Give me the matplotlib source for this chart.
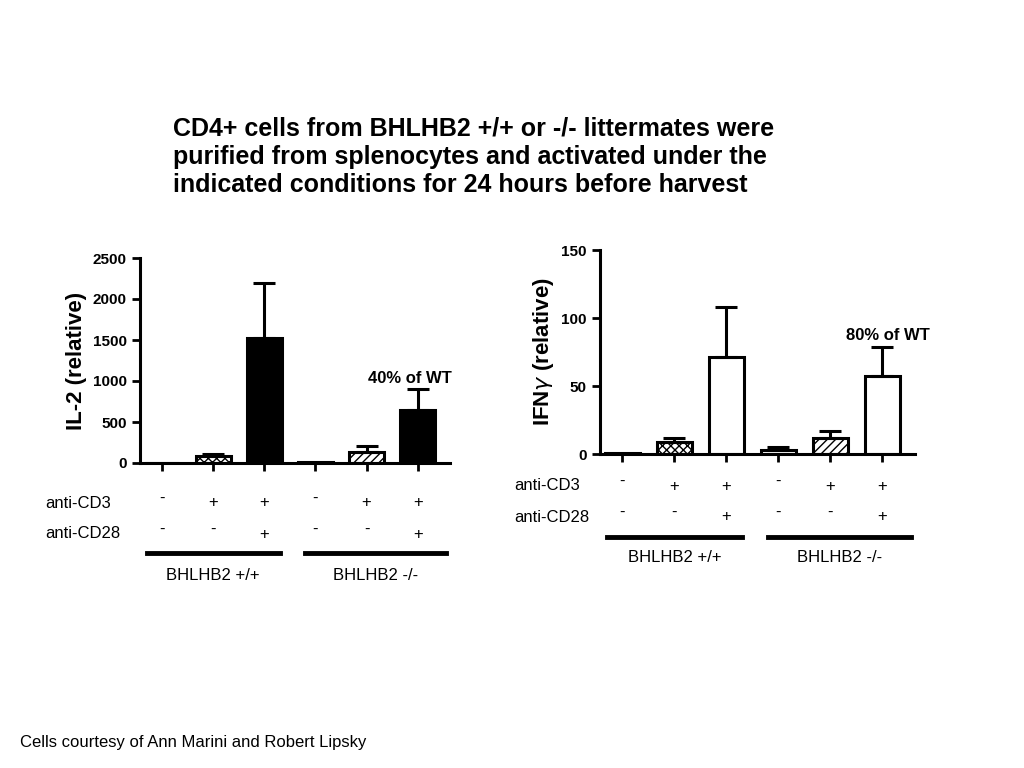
import matplotlib
matplotlib.use("Agg")
import matplotlib.pyplot as plt
import matplotlib.transforms as mtransforms

W, H = 1024, 768

# data
il2_mean = [0, 90, 1520, 10, 130, 650]
il2_err = [0, 25, 680, 0, 80, 250]
ifn_mean = [1, 9, 71, 3, 12, 57]
ifn_err = [0, 3, 37, 2, 5, 22]
cd3 = ["-", "+", "+", "-", "+", "+"]
cd28 = ["-", "-", "+", "-", "-", "+"]
groups = ["BHLHB2 +/+", "BHLHB2 -/-"]

plt.rcParams["font.family"] = "Liberation Sans"
fig = plt.figure(figsize=(W / 100, H / 100), dpi=100)


def rect(l, t, r, b):
    return [l / W, 1 - b / H, (r - l) / W, (b - t) / H]


def fy(y):
    return 1 - y / H


def panel(box, mean, err, styles, ylim, yticks, ylabel, note, note_xy,
          row_y, bar_y, grp_y, lab_x, lab_dy):
    ax = fig.add_axes(rect(*box))
    x = range(len(mean))
    for i, (m, e) in enumerate(zip(mean, err)):
        fc, hatch = styles[i]
        ax.bar(i, m, width=0.68, color=fc, edgecolor="black", lw=2.2, hatch=hatch)
        if e > 0:
            ax.errorbar(i, m, yerr=[[0], [e]], color="black", lw=2.2, capsize=8, capthick=2.2)
    ax.set_xlim(-0.43, 5.63)
    ax.set_ylim(0, ylim)
    ax.set_yticks(yticks)
    ax.set_xticks(list(x))
    ax.set_xticklabels([])
    for s in ("top", "right"):
        ax.spines[s].set_visible(False)
    for s in ("left", "bottom"):
        ax.spines[s].set_linewidth(2.2)
    ax.tick_params(width=2, length=6, labelsize=11)
    for t in ax.get_yticklabels():
        t.set_fontweight("bold")
    ax.set_ylabel(ylabel, fontsize=16, fontweight="bold")
    ax.text(*note_xy, note, fontsize=12, fontweight="bold", ha="center")
    tr = mtransforms.blended_transform_factory(ax.transData, fig.transFigure)
    fig.text(lab_x / W, fy(row_y[0]), "anti-CD3", fontsize=12, va="center")
    fig.text(lab_x / W, fy(row_y[1]), "anti-CD28", fontsize=12, va="center")
    for i in x:
        for r, lab in enumerate((cd3, cd28)):
            dy = -lab_dy if lab[i] == "-" else 0
            ax.text(i, fy(row_y[r] + dy), lab[i], transform=tr, ha="center",
                    va="center", fontsize=12)
    for g, (a, b) in enumerate(((-0.3, 2.3), (2.8, 5.55))):
        ax.plot([a, b], [fy(bar_y)] * 2, transform=tr, color="black", lw=3.5,
                clip_on=False)
        ax.text((a + b) / 2, fy(grp_y), groups[g], transform=tr, ha="center",
                va="center", fontsize=12)
    return ax


left_styles = [("white", None), ("white", "xxxx"), ("black", None),
               ("white", None), ("white", "////"), ("black", None)]
right_styles = [("white", None), ("white", "xxxx"), ("white", None),
                ("white", "...."), ("white", "////"), ("white", None)]

panel((140, 258, 450, 463), il2_mean, il2_err, left_styles, 2500,
      [0, 500, 1000, 1500, 2000, 2500], "IL-2 (relative)", "40% of WT",
      (4.85, 970), (503, 534), 553, 576, 45, 5)
panel((600, 250, 915, 454), ifn_mean, ifn_err, right_styles, 150,
      [0, 50, 100, 150], "IFN$\\gamma$ (relative)", "80% of WT",
      (5.1, 84), (486, 517), 537, 557, 514, 5)

fig.text(173 / W, fy(116), "CD4+ cells from BHLHB2 +/+ or -/- littermates were\n"
         "purified from splenocytes and activated under the\n"
         "indicated conditions for 24 hours before harvest",
         fontsize=18, fontweight="bold", va="top", linespacing=1.25)
fig.text(20 / W, fy(743), "Cells courtesy of Ann Marini and Robert Lipsky",
         fontsize=12, va="center")

fig.savefig("out.png", dpi=100)
